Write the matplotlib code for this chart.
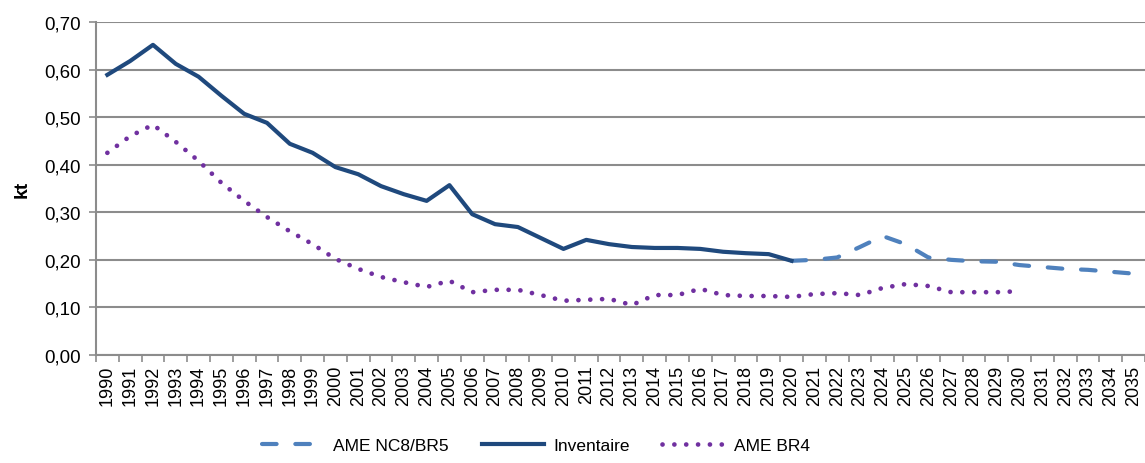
import numpy as np
import matplotlib
matplotlib.use("Agg")
import matplotlib.pyplot as plt
from matplotlib.ticker import FuncFormatter, FixedLocator

plt.rcParams['font.family'] = ['Liberation Sans', 'DejaVu Sans']

# ── données ──────────────────────────────────────────────
years = list(range(1990, 2036))

inventaire = [0.589, 0.618, 0.652, 0.612, 0.585, 0.545, 0.507, 0.488, 0.444, 0.425,
              0.395, 0.380, 0.355, 0.338, 0.324, 0.357, 0.296, 0.275, 0.269, 0.246,
              0.223, 0.242, 0.233, 0.227, 0.225, 0.225, 0.223, 0.217, 0.214, 0.212,
              0.198]

ame_br4 = [0.425, 0.460, 0.484, 0.448, 0.408, 0.362, 0.324, 0.290, 0.260, 0.233,
           0.202, 0.181, 0.164, 0.153, 0.143, 0.156, 0.132, 0.137, 0.137, 0.126,
           0.114, 0.116, 0.118, 0.105, 0.126, 0.126, 0.139, 0.126, 0.124, 0.124,
           0.122, 0.128, 0.130, 0.126, 0.141, 0.149, 0.145, 0.132, 0.132, 0.132,
           0.134]

ame_nc8 = [0.198, 0.200, 0.205, 0.227, 0.250, 0.233, 0.205, 0.200, 0.197, 0.196,
           0.189, 0.185, 0.181, 0.179, 0.175, 0.171]
nc8_start = 2020

# ── figure ───────────────────────────────────────────────
fig = plt.figure(figsize=(11.45, 4.64), dpi=100)
ax = fig.add_axes([0.0838, 0.2328, 0.9162, 0.7176])

x_all = np.arange(len(years))
i0 = years.index(nc8_start)

ax.plot(x_all[i0:i0 + len(ame_nc8)], ame_nc8, color="#4F81BD", lw=3,
        linestyle=(0, (3.5, 4.5)), dash_capstyle="round", label="AME NC8/BR5", zorder=3)
ax.plot(x_all[:len(inventaire)], inventaire, color="#1F497D", lw=3,
        label="Inventaire", zorder=4)
ax.plot(x_all[:len(ame_br4)], ame_br4, color="#7030A0", lw=3.4,
        linestyle=(0, (0.01, 2.5)), dash_capstyle="round", label="AME BR4", zorder=3)

ax.set_xlim(-0.5, len(years) - 0.5)
ax.set_ylim(0, 0.70)
ax.set_yticks(np.arange(0, 0.71, 0.1))
ax.yaxis.set_major_formatter(FuncFormatter(lambda v, p: f"{v:.2f}".replace(".", ",")))
ax.grid(axis="y", color="#8c8c8c", lw=1.5)
ax.set_axisbelow(True)

ax.set_xticks(x_all)
ax.set_xticklabels([str(y) for y in years], rotation=90, fontsize=13)
ax.xaxis.set_minor_locator(FixedLocator(np.arange(-0.5, len(years), 1)))
ax.tick_params(axis="x", which="major", length=0, pad=7)
ax.tick_params(axis="x", which="minor", length=5, color="#8c8c8c", width=1.2)
ax.tick_params(axis="y", length=5, color="#8c8c8c", width=1.2, labelsize=13.5, pad=6)

for s in ["top", "right"]:
    ax.spines[s].set_visible(False)
for s in ["left", "bottom"]:
    ax.spines[s].set_color("#8c8c8c")
    ax.spines[s].set_linewidth(1.5)

ax.set_ylabel("kt", fontsize=14, fontweight="bold", labelpad=10)

fig.legend(loc="lower center", bbox_to_anchor=(0.468, -0.012), ncol=3, frameon=False,
           fontsize=12.5, handlelength=3.6, columnspacing=1.9, handletextpad=0.5)

fig.savefig("out.png", dpi=100)
